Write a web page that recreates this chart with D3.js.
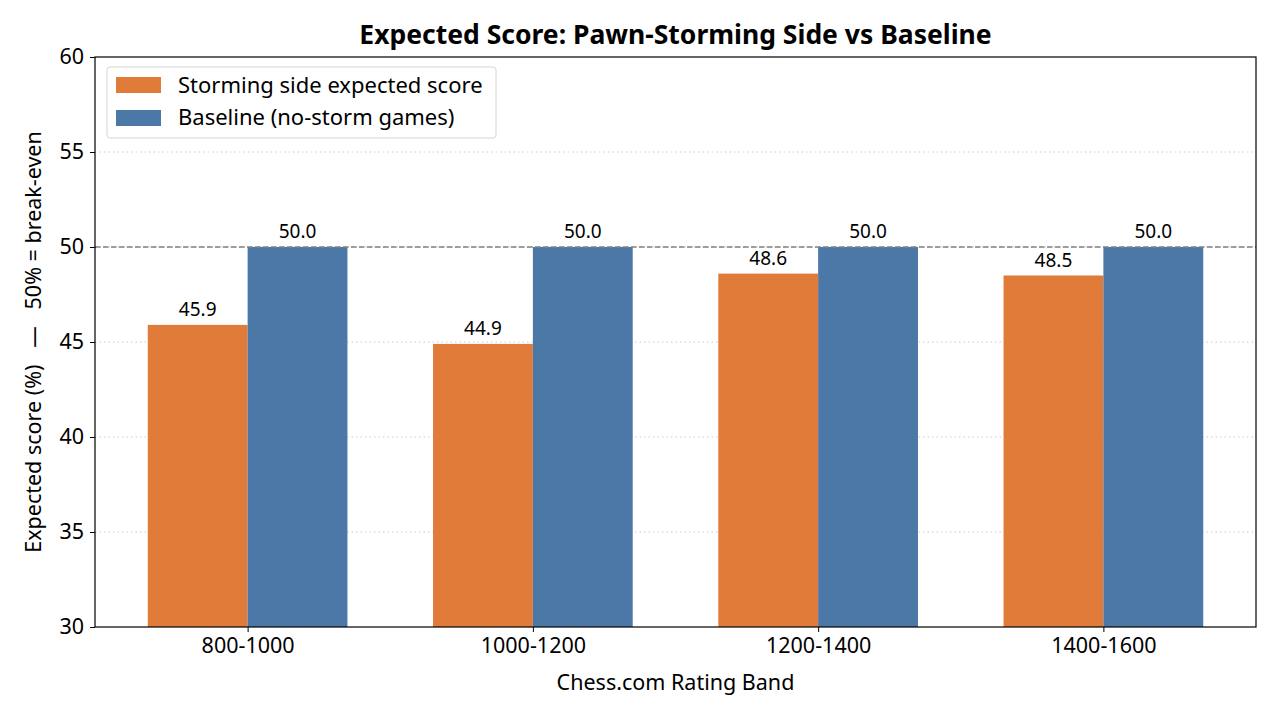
<!DOCTYPE html>
<html>
<head>
<meta charset="utf-8">
<script src="https://cdn.jsdelivr.net/npm/d3@7"></script>
<style>
body { margin: 0; background: #fff; }
text { font-family: "Noto Sans", "DejaVu Sans", sans-serif; fill: #000; }
</style>
</head>
<body>
<script>
// data
var bands = ['800-1000', '1000-1200', '1200-1400', '1400-1600'];
var storming = [45.9, 44.9, 48.6, 48.5];
var baseline = [50.0, 50.0, 50.0, 50.0];
var yTicks = [30, 35, 40, 45, 50, 55, 60];
var seriesNames = ['Storming side expected score', 'Baseline (no-storm games)'];
var seriesColors = ['#E07B3A', '#4C78A8'];

// layout
var width = 1280, height = 720;
var plotL = 95, plotR = 1256, plotT = 57, plotB = 627;
var barW = 0.35;

var svg = d3.select('body').append('svg')
	.attr('width', width)
	.attr('height', height);

var x = d3.scaleLinear().domain([-0.535, bands.length - 1 + 0.535]).range([plotL, plotR]);
var y = d3.scaleLinear().domain([30, 60]).range([plotB, plotT]);

// grid
svg.selectAll('line.grid').data(yTicks.filter(function(d){ return d > 30 && d < 60; }))
	.enter().append('line')
	.attr('class', 'grid')
	.attr('x1', plotL).attr('x2', plotR)
	.attr('y1', function(d){ return y(d); })
	.attr('y2', function(d){ return y(d); })
	.attr('stroke', '#cccccc')
	.attr('stroke-width', 1)
	.attr('stroke-dasharray', '1.5,3');

// bars
var groups = [storming, baseline];
groups.forEach(function(vals, s){
	var off = s === 0 ? -barW / 2 : barW / 2;
	svg.selectAll('rect.s' + s).data(vals)
		.enter().append('rect')
		.attr('class', 's' + s)
		.attr('x', function(d, i){ return x(i + off - barW / 2); })
		.attr('width', function(){ return x(barW) - x(0); })
		.attr('y', function(d){ return y(d); })
		.attr('height', function(d){ return y(30) - y(d); })
		.attr('fill', seriesColors[s]);

	svg.selectAll('text.v' + s).data(vals)
		.enter().append('text')
		.attr('class', 'v' + s)
		.attr('x', function(d, i){ return x(i + off); })
		.attr('y', function(d){ return y(d) - 9; })
		.attr('text-anchor', 'middle')
		.attr('font-size', 19)
		.text(function(d){ return d.toFixed(1); });
});

// break-even line
svg.append('line')
	.attr('x1', plotL).attr('x2', plotR)
	.attr('y1', y(50)).attr('y2', y(50))
	.attr('stroke', '#808080')
	.attr('stroke-width', 1.5)
	.attr('stroke-dasharray', '5.5,2.5');

// axes
var yAxis = d3.axisLeft(y).tickValues(yTicks).tickSize(5).tickPadding(6);
var gy = svg.append('g').attr('transform', 'translate(' + plotL + ',0)').call(yAxis);
gy.selectAll('text').attr('font-size', 21.5).style('font-family', '"Noto Sans", sans-serif');

var xAxis = d3.axisBottom(x).tickValues(d3.range(bands.length))
	.tickFormat(function(i){ return bands[i]; }).tickSize(5).tickPadding(6);
var gx = svg.append('g').attr('transform', 'translate(0,' + plotB + ')').call(xAxis);
gx.selectAll('text').attr('font-size', 21.5).style('font-family', '"Noto Sans", sans-serif');

[gx, gy].forEach(function(g){
	g.select('.domain').remove();
	g.selectAll('line').attr('stroke', '#000').attr('stroke-width', 1);
});

svg.append('rect')
	.attr('x', plotL).attr('y', plotT)
	.attr('width', plotR - plotL).attr('height', plotB - plotT)
	.attr('fill', 'none').attr('stroke', '#000').attr('stroke-width', 1.2);

// labels
svg.append('text')
	.attr('x', (plotL + plotR) / 2).attr('y', 44)
	.attr('text-anchor', 'middle')
	.attr('font-size', 26.5).attr('font-weight', 'bold')
	.text('Expected Score: Pawn-Storming Side vs Baseline');

svg.append('text')
	.attr('x', (plotL + plotR) / 2).attr('y', 690)
	.attr('text-anchor', 'middle')
	.attr('font-size', 21.5)
	.text('Chess.com Rating Band');

svg.append('text')
	.attr('transform', 'translate(41,' + ((plotT + plotB) / 2) + ') rotate(-90)')
	.attr('text-anchor', 'middle')
	.attr('font-size', 21.5)
	.style('white-space', 'pre')
	.text('Expected score (%)   \u2014   50% = break-even');

// legend
var lg = svg.append('g').attr('transform', 'translate(107,67)');
lg.append('rect')
	.attr('width', 389).attr('height', 71)
	.attr('rx', 3)
	.attr('fill', '#fff').attr('fill-opacity', 0.8)
	.attr('stroke', '#d6d6d6').attr('stroke-width', 1);
seriesNames.forEach(function(n, i){
	lg.append('rect')
		.attr('x', 9).attr('y', 10 + i * 33)
		.attr('width', 45).attr('height', 16)
		.attr('fill', seriesColors[i]);
	lg.append('text')
		.attr('x', 71).attr('y', 26 + i * 32)
		.attr('font-size', 22)
		.text(n);
});
</script>
</body>
</html>
